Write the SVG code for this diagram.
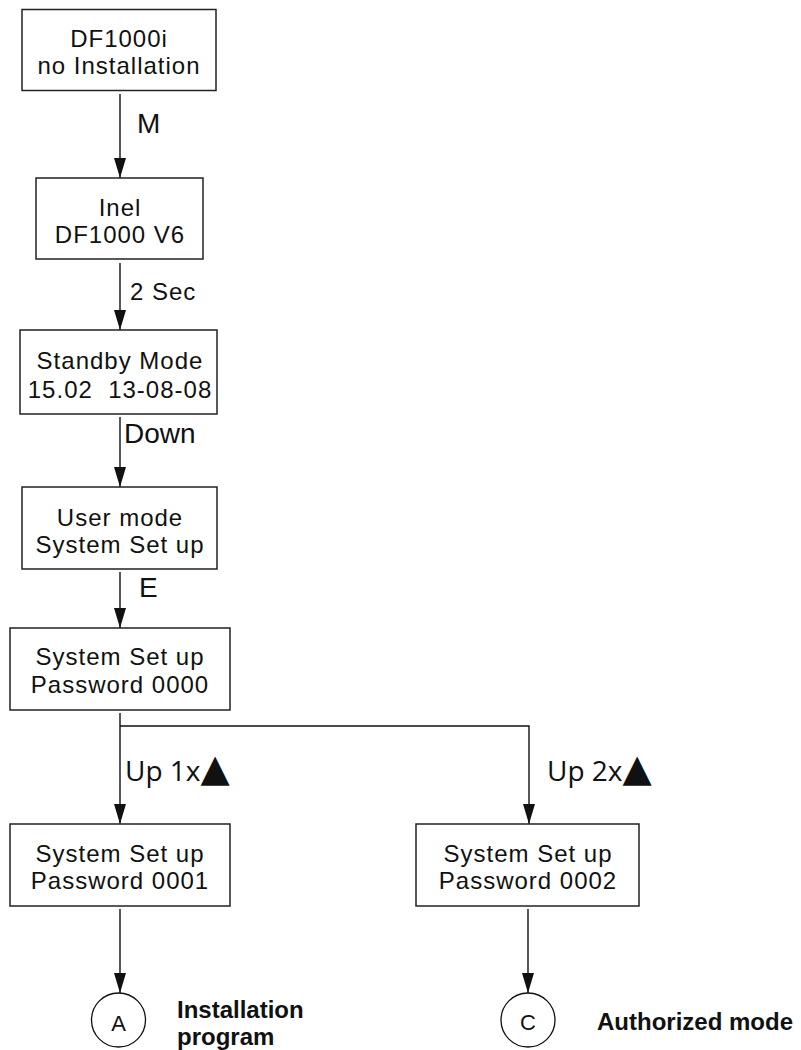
<svg xmlns="http://www.w3.org/2000/svg" width="801" height="1050" viewBox="0 0 801 1050">
  <style>
    .box { fill: #ffffff; stroke: #222222; stroke-width: 1.5; }
    .txt { font-family: "Liberation Sans", Arial, sans-serif; font-size: 24px; letter-spacing: 1px; fill: #111111; text-anchor: middle; }
    .lbl { font-family: "Liberation Sans", Arial, sans-serif; font-size: 28px; fill: #111111; }
    .lbl-s { font-family: "Liberation Sans", Arial, sans-serif; font-size: 24px; letter-spacing: 1px; fill: #111111; }
    .up { font-family: "Open Sans", sans-serif; font-size: 28px; fill: #111111; }
    .tri { font-family: "DejaVu Sans", sans-serif; font-size: 38px; }
    .bold { font-family: "Liberation Sans", Arial, sans-serif; font-size: 24px; font-weight: bold; fill: #111111; }
    .wire { fill: none; stroke: #111111; stroke-width: 1.4; }
    .circ { fill: #ffffff; stroke: #111111; stroke-width: 1.3; }
    .letter { font-family: "Liberation Sans", Arial, sans-serif; font-size: 22px; fill: #111111; text-anchor: middle; }
  </style>
  <defs>
    <marker id="arrow" markerWidth="20" markerHeight="12" refX="20" refY="6" orient="auto" markerUnits="userSpaceOnUse" viewBox="0 0 20 12">
      <path d="M0,0 L20,6 L0,12 Z" fill="#111111"/>
    </marker>
  </defs>
  <rect width="801" height="1050" fill="#ffffff"/>

  <!-- connectors -->
  <g id="connectors">
    <line class="wire" x1="120" y1="94" x2="120" y2="178" marker-end="url(#arrow)"/>
    <line class="wire" x1="120" y1="263" x2="120" y2="330" marker-end="url(#arrow)"/>
    <line class="wire" x1="120" y1="417" x2="120" y2="487" marker-end="url(#arrow)"/>
    <line class="wire" x1="120" y1="572" x2="120" y2="628" marker-end="url(#arrow)"/>
    <line class="wire" x1="120" y1="713" x2="120" y2="824" marker-end="url(#arrow)"/>
    <polyline class="wire" points="120,726 529,726 529,824" marker-end="url(#arrow)"/>
    <line class="wire" x1="120" y1="909" x2="120" y2="993" marker-end="url(#arrow)"/>
    <line class="wire" x1="528" y1="909" x2="528" y2="993" marker-end="url(#arrow)"/>

    <text class="lbl" x="137" y="133">M</text>
    <text class="lbl-s" x="130" y="300">2 Sec</text>
    <text class="lbl" x="124" y="443">Down</text>
    <text class="lbl" x="139" y="597">E</text>
    <text class="up" x="125" y="781">Up 1x<tspan class="tri">▲</tspan></text>
    <text class="up" x="547" y="781">Up 2x<tspan class="tri">▲</tspan></text>
  </g>

  <!-- nodes -->
  <g id="node-start">
    <rect class="box" x="22" y="9.5" width="194" height="81"/>
    <text class="txt" x="119" y="47">DF1000i</text>
    <text class="txt" x="119" y="74">no Installation</text>
  </g>
  <g id="node-inel">
    <rect class="box" x="36" y="178" width="167" height="81"/>
    <text class="txt" x="120" y="216">Inel</text>
    <text class="txt" x="120" y="243">DF1000 V6</text>
  </g>
  <g id="node-standby">
    <rect class="box" x="20" y="330" width="197" height="84"/>
    <text class="txt" x="120" y="369">Standby Mode</text>
    <text class="txt" x="120" y="398" xml:space="preserve">15.02  13-08-08</text>
  </g>
  <g id="node-user">
    <rect class="box" x="22" y="487" width="195" height="82"/>
    <text class="txt" x="120" y="526">User mode</text>
    <text class="txt" x="120" y="553">System Set up</text>
  </g>
  <g id="node-pw0000">
    <rect class="box" x="10" y="628" width="220" height="82"/>
    <text class="txt" x="120" y="665">System Set up</text>
    <text class="txt" x="120" y="693">Password 0000</text>
  </g>
  <g id="node-pw0001">
    <rect class="box" x="10" y="824" width="220" height="82"/>
    <text class="txt" x="120" y="862">System Set up</text>
    <text class="txt" x="120" y="889">Password 0001</text>
  </g>
  <g id="node-pw0002">
    <rect class="box" x="416" y="824" width="223" height="82"/>
    <text class="txt" x="528" y="862">System Set up</text>
    <text class="txt" x="528" y="889">Password 0002</text>
  </g>
  <g id="node-a">
    <circle class="circ" cx="118.5" cy="1020" r="27"/>
    <text class="letter" x="118.5" y="1031">A</text>
    <text class="bold" x="177" y="1018">Installation</text>
    <text class="bold" x="177" y="1045">program</text>
  </g>
  <g id="node-c">
    <circle class="circ" cx="528" cy="1020" r="27"/>
    <text class="letter" x="528" y="1030">C</text>
    <text class="bold" x="597" y="1030">Authorized mode</text>
  </g>
</svg>
